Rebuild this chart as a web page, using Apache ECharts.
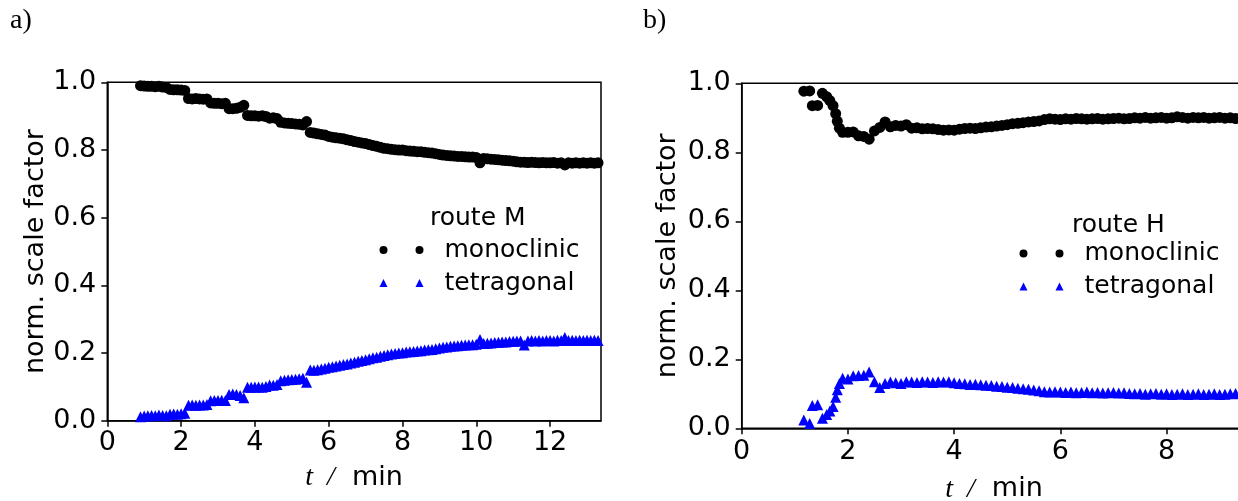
<!DOCTYPE html>
<html>
<head>
<meta charset="utf-8">
<script src="https://cdn.jsdelivr.net/npm/echarts@6/dist/echarts.min.js"></script>
<style>
  html, body { margin: 0; padding: 0; background: #fff; }
  #chart { width: 1238px; height: 501px; }
</style>
</head>
<body>
<div id="chart"></div>
<script>
// route M (panel a)
var timeM = [0.9,1.0,1.1,1.2,1.3,1.4,1.5,1.6,1.7,1.8,1.9,2.0,2.1,2.2,2.3,2.4,2.5,2.6,2.7,2.8,2.9,3.0,3.1,3.2,3.3,3.4,3.5,3.6,3.7,3.8,3.9,4.0,4.1,4.2,4.3,4.4,4.5,4.6,4.7,4.8,4.9,5.0,5.1,5.2,5.3,5.4,5.5,5.6,5.7,5.8,5.9,6.0,6.1,6.2,6.3,6.4,6.5,6.6,6.7,6.8,6.9,7.0,7.1,7.2,7.3,7.4,7.5,7.6,7.7,7.8,7.9,8.0,8.1,8.2,8.3,8.4,8.5,8.6,8.7,8.8,8.9,9.0,9.1,9.2,9.3,9.4,9.5,9.6,9.7,9.8,9.9,10.0,10.1,10.2,10.3,10.4,10.5,10.6,10.7,10.8,10.9,11.0,11.1,11.2,11.3,11.4,11.5,11.6,11.7,11.8,11.9,12.0,12.1,12.2,12.3,12.4,12.5,12.6,12.7,12.8,12.9,13.0,13.1,13.2,13.3,13.4];
var monoM = [0.990,0.989,0.988,0.988,0.987,0.988,0.986,0.985,0.979,0.978,0.978,0.977,0.976,0.952,0.951,0.952,0.951,0.950,0.951,0.939,0.938,0.938,0.937,0.938,0.922,0.922,0.923,0.926,0.932,0.902,0.901,0.901,0.900,0.901,0.899,0.894,0.895,0.893,0.882,0.880,0.879,0.878,0.877,0.876,0.874,0.884,0.852,0.850,0.848,0.846,0.844,0.840,0.838,0.836,0.835,0.833,0.830,0.828,0.825,0.823,0.821,0.819,0.816,0.813,0.811,0.808,0.805,0.804,0.802,0.801,0.800,0.800,0.798,0.797,0.796,0.795,0.795,0.793,0.792,0.791,0.789,0.787,0.785,0.784,0.783,0.782,0.781,0.781,0.780,0.779,0.779,0.778,0.762,0.775,0.774,0.773,0.772,0.771,0.770,0.769,0.768,0.767,0.765,0.764,0.764,0.763,0.764,0.763,0.762,0.763,0.762,0.762,0.763,0.761,0.762,0.756,0.762,0.761,0.762,0.761,0.762,0.761,0.762,0.761,0.762,0.761];
var tetraM = [0.012,0.014,0.015,0.016,0.015,0.017,0.016,0.015,0.019,0.020,0.019,0.021,0.022,0.046,0.047,0.046,0.047,0.047,0.048,0.059,0.060,0.060,0.061,0.060,0.078,0.079,0.078,0.075,0.068,0.099,0.099,0.100,0.100,0.099,0.101,0.106,0.105,0.107,0.118,0.120,0.121,0.122,0.123,0.124,0.126,0.114,0.150,0.149,0.151,0.153,0.155,0.158,0.160,0.162,0.164,0.166,0.168,0.171,0.173,0.176,0.178,0.180,0.183,0.186,0.188,0.191,0.193,0.195,0.197,0.199,0.200,0.201,0.203,0.204,0.205,0.206,0.207,0.209,0.210,0.211,0.213,0.215,0.217,0.218,0.220,0.221,0.222,0.223,0.224,0.225,0.225,0.226,0.240,0.228,0.229,0.230,0.231,0.232,0.233,0.233,0.234,0.235,0.236,0.236,0.224,0.236,0.237,0.236,0.237,0.236,0.237,0.237,0.236,0.238,0.237,0.246,0.237,0.238,0.237,0.238,0.237,0.238,0.237,0.238,0.237,0.238];

// route H (panel b)
var timeH = [1.17,1.28,1.33,1.43,1.52,1.60,1.66,1.72,1.77,1.80,1.84,1.90,2.0,2.1,2.2,2.3,2.4,2.5,2.6,2.7,2.8,2.9,3.0,3.1,3.2,3.3,3.4,3.5,3.6,3.7,3.8,3.9,4.0,4.1,4.2,4.3,4.4,4.5,4.6,4.7,4.8,4.9,5.0,5.1,5.2,5.3,5.4,5.5,5.6,5.7,5.8,5.9,6.0,6.1,6.2,6.3,6.4,6.5,6.6,6.7,6.8,6.9,7.0,7.1,7.2,7.3,7.4,7.5,7.6,7.7,7.8,7.9,8.0,8.1,8.2,8.3,8.4,8.5,8.6,8.7,8.8,8.9,9.0,9.1,9.2,9.3,9.4,9.5];
var monoH = [0.977,0.978,0.935,0.936,0.971,0.961,0.950,0.935,0.912,0.890,0.870,0.858,0.858,0.859,0.848,0.846,0.838,0.862,0.872,0.888,0.874,0.878,0.876,0.880,0.870,0.871,0.868,0.869,0.868,0.866,0.864,0.865,0.864,0.867,0.869,0.870,0.869,0.871,0.873,0.874,0.876,0.878,0.880,0.883,0.884,0.886,0.888,0.889,0.891,0.895,0.897,0.896,0.895,0.897,0.896,0.898,0.897,0.896,0.897,0.898,0.896,0.897,0.898,0.899,0.897,0.898,0.900,0.899,0.901,0.899,0.900,0.901,0.899,0.900,0.903,0.901,0.899,0.901,0.900,0.901,0.899,0.900,0.901,0.899,0.900,0.898,0.899,0.898];
var tetraH = [0.024,0.014,0.066,0.068,0.029,0.040,0.050,0.063,0.090,0.112,0.130,0.145,0.143,0.152,0.153,0.154,0.163,0.135,0.118,0.130,0.134,0.132,0.130,0.135,0.134,0.133,0.135,0.134,0.133,0.135,0.134,0.135,0.132,0.130,0.129,0.127,0.128,0.126,0.125,0.124,0.122,0.121,0.119,0.118,0.116,0.115,0.113,0.111,0.109,0.106,0.105,0.106,0.105,0.104,0.105,0.103,0.104,0.105,0.103,0.104,0.102,0.103,0.104,0.102,0.103,0.101,0.100,0.101,0.099,0.100,0.101,0.099,0.100,0.098,0.099,0.100,0.098,0.099,0.100,0.098,0.099,0.100,0.098,0.099,0.100,0.101,0.100,0.101];

var xTicksM = [0, 2, 4, 6, 8, 10, 12];
var xTicksH = [0, 2, 4, 6, 8];
var yTicks = [0, 0.2, 0.4, 0.6, 0.8, 1.0];

function pairs(xs, ys) {
  return xs.map(function (x, i) { return [x, ys[i]]; });
}

var font = 'DejaVu Sans';
var dotIcon = 'path://M0,4a4,4 0 1,0 8,0a4,4 0 1,0 -8,0zM36,4a4,4 0 1,0 8,0a4,4 0 1,0 -8,0z';
var triIcon = 'path://M4,0L8,8L0,8zM40,0L44,8L36,8z';

function xAxisOf(idx, max, ticks, gap, margin) {
  return {
    type: 'value', gridIndex: idx, min: 0, max: max,
    name: '{i|t  /}  min', nameLocation: 'middle', nameGap: gap,
    nameTextStyle: {
      fontFamily: font, fontSize: 27, color: '#000',
      rich: { i: { fontFamily: 'Liberation Serif', fontStyle: 'italic', fontSize: 28, color: '#000' } }
    },
    axisLine: { show: true, onZero: false, lineStyle: { color: '#000', width: 1.5 } },
    axisTick: { show: true, inside: false, length: 6, customValues: ticks, lineStyle: { color: '#000', width: 1.5 } },
    axisLabel: { customValues: ticks, margin: margin, fontFamily: font, fontSize: 27, color: '#000' },
    splitLine: { show: false }
  };
}

function yAxisOf(idx, gap) {
  return {
    type: 'value', gridIndex: idx, min: 0, max: 1,
    name: 'norm. scale factor', nameLocation: 'middle', nameGap: gap, nameRotate: 90,
    nameTextStyle: { fontFamily: font, fontSize: 27, color: '#000' },
    axisLine: { show: true, lineStyle: { color: '#000', width: 1.5 } },
    axisTick: { show: true, length: 6, customValues: yTicks, lineStyle: { color: '#000', width: 1.5 } },
    axisLabel: {
      customValues: yTicks, margin: 11, fontFamily: font, fontSize: 27, color: '#000',
      formatter: function (v) { return v.toFixed(1); }
    },
    splitLine: { show: false }
  };
}

function legendOf(left, top, series) {
  return {
    orient: 'vertical', left: left, top: top, padding: 0, itemGap: 8,
    itemWidth: 44, itemHeight: 8, selectedMode: false,
    textStyle: { fontFamily: font, fontSize: 25, color: '#000', lineHeight: 25, padding: [0, 0, 0, 16] },
    formatter: function (name) { return name.replace(' H', ''); },
    data: [
      { name: series[0], icon: dotIcon },
      { name: series[1], icon: triIcon }
    ]
  };
}

var titleStyle = { fontFamily: 'Liberation Serif', fontSize: 28, fontWeight: 'normal', color: '#000' };
var legTitleStyle = { fontFamily: font, fontSize: 25, fontWeight: 'normal', color: '#000' };

var chart = echarts.init(document.getElementById('chart'));
chart.setOption({
  animation: false,
  backgroundColor: '#fff',
  title: [
    { text: 'a)', left: 10, top: 7, padding: 0, textStyle: titleStyle },
    { text: 'b)', left: 643, top: 7, padding: 0, textStyle: titleStyle },
    { text: 'route M', left: 430, top: 206, padding: 0, textStyle: legTitleStyle },
    { text: 'route H', left: 1072, top: 213, padding: 0, textStyle: legTitleStyle }
  ],
  legend: [
    legendOf(379.5, 237.5, ['monoclinic', 'tetragonal']),
    legendOf(1019.5, 241, ['monoclinic H', 'tetragonal H'])
  ],
  grid: [
    { left: 107.3, top: 82.3, width: 493.7, height: 338.5, show: true, borderColor: '#000', borderWidth: 1.5, outerBoundsMode: 'none', containLabel: false },
    { left: 741.7, top: 83.3, width: 504.5, height: 345, show: true, borderColor: '#000', borderWidth: 1.5, outerBoundsMode: 'none', containLabel: false }
  ],
  xAxis: [xAxisOf(0, 13.38, xTicksM, 43, 9), xAxisOf(1, 9.5, xTicksH, 47, 10)],
  yAxis: [yAxisOf(0, 56), yAxisOf(1, 60)],
  series: [
    { name: 'monoclinic', type: 'scatter', xAxisIndex: 0, yAxisIndex: 0, symbol: 'circle', symbolSize: 11,
      itemStyle: { color: '#000', opacity: 1 }, data: pairs(timeM, monoM) },
    { name: 'tetragonal', type: 'scatter', xAxisIndex: 0, yAxisIndex: 0, symbol: 'triangle', symbolSize: 11,
      itemStyle: { color: '#0000ff', opacity: 1 }, data: pairs(timeM, tetraM) },
    { name: 'monoclinic H', type: 'scatter', xAxisIndex: 1, yAxisIndex: 1, symbol: 'circle', symbolSize: 11,
      itemStyle: { color: '#000', opacity: 1 }, data: pairs(timeH, monoH) },
    { name: 'tetragonal H', type: 'scatter', xAxisIndex: 1, yAxisIndex: 1, symbol: 'triangle', symbolSize: 11,
      itemStyle: { color: '#0000ff', opacity: 1 }, data: pairs(timeH, tetraH) }
  ]
});
</script>
</body>
</html>
